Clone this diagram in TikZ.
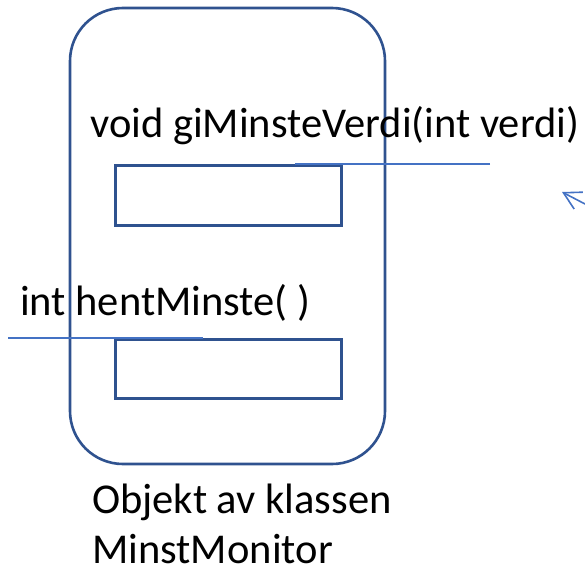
\documentclass[tikz,border=0pt]{standalone}
\usepackage{fontspec}
\setmainfont{Carlito}
\usetikzlibrary{arrows.meta}
\definecolor{outline}{HTML}{2F528F}
\definecolor{wire}{HTML}{4472C4}
\tikzset{
  objshape/.style={draw=outline, line width=2.6pt, rounded corners=53pt},
  slot/.style={draw=outline, line width=2.6pt},
  wireline/.style={draw=wire, line width=2.2pt},
  label/.style={anchor=base west, inner sep=0pt, text depth=0pt, font=\fontsize{42.5}{50}\selectfont},
}
\begin{document}
\begin{tikzpicture}[x=1pt, y=-1pt]
  \useasboundingbox (0,0) rectangle (585,570);
  \clip (0,0) rectangle (585,570);

  % object outline and the two method slots
  \draw[objshape] (70,8) rectangle (385,464);
  \node[slot, minimum width=226pt, minimum height=60pt, inner sep=0pt, anchor=north west] (slotA) at (114,164) {};
  \node[slot, minimum width=226pt, minimum height=59pt, inner sep=0pt, anchor=north west] (slotB) at (114,338) {};

  % method signatures
  \node[label] (sigA) at (90,137) {void giMinsteVerdi(int verdi)};
  \node[label] (sigB) at (20,315) {int hentMinste( )};

  % call lines
  \coordinate (inA) at (490,164);
  \coordinate (inAend) at (295,164);
  \coordinate (outB) at (8,338);
  \coordinate (outBend) at (203,338);
  \draw[wireline] (inA) -- (inAend);
  \draw[wireline] (outB) -- (outBend);

  % incoming arrow at the right margin
  \coordinate (arrowTail) at (610,217);
  \coordinate (arrowTip) at (562,192);
  \draw[draw=wire, line width=1.6pt, -{Straight Barb[length=17pt, width=19pt]}] (arrowTail) -- (arrowTip);

  % caption
  \node[label] (capA) at (92,513) {Objekt av klassen};
  \node[label] (capB) at (92,563) {MinstMonitor};
\end{tikzpicture}
\end{document}
